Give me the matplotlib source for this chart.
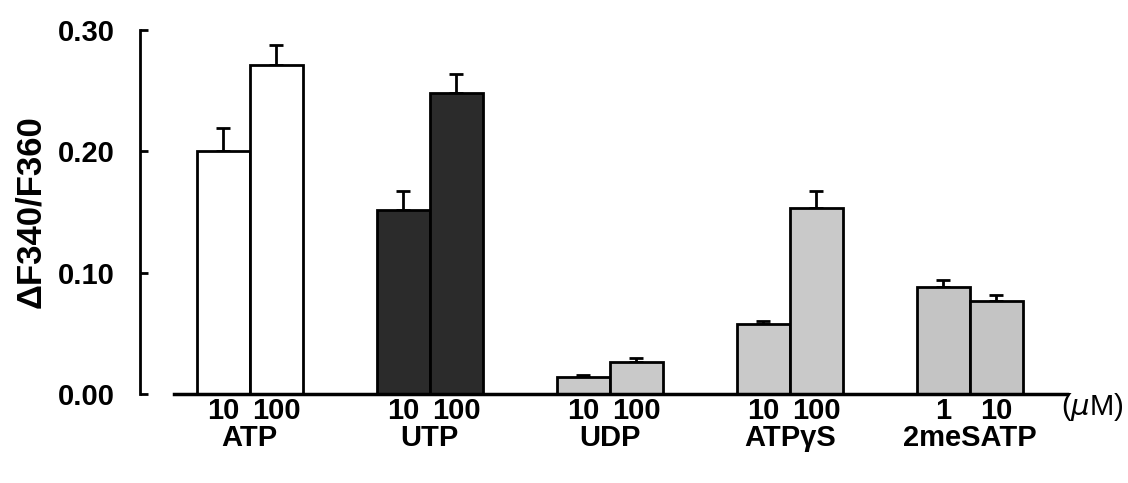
import numpy as np
import matplotlib
matplotlib.use("Agg")
import matplotlib.pyplot as plt

plt.rcParams['font.family'] = ['Liberation Sans', 'DejaVu Sans']

# data
groups = ['ATP', 'UTP', 'UDP', 'ATPγS', '2meSATP']
doses = [['10', '100'], ['10', '100'], ['10', '100'], ['10', '100'], ['1', '10']]
values = [[0.200, 0.271], [0.152, 0.248], [0.014, 0.026], [0.058, 0.153], [0.088, 0.077]]
errors = [[0.019, 0.017], [0.015, 0.016], [0.002, 0.004], [0.002, 0.014], [0.006, 0.005]]
colors = ['white', '#2b2b2b', '#c9c9c9', '#c9c9c9', '#c4c4c4']

fig = plt.figure(figsize=(11.28, 4.83), dpi=100)
ax = fig.add_axes([140 / 1128, 89 / 483, 988 / 1128, 364 / 483])

w = 0.295
for i, g in enumerate(groups):
    xs = np.array([i - w / 2, i + w / 2])
    ax.bar(xs, values[i], width=w, color=colors[i], edgecolor='black', linewidth=2, zorder=3)
    ax.errorbar(xs, values[i], yerr=[[0, 0], errors[i]], fmt='none', ecolor='black',
                elinewidth=2, capsize=5, capthick=2, zorder=2)
    for x, d in zip(xs, doses[i]):
        ax.text(x, -17 / 364, d, transform=ax.get_xaxis_transform(), ha='center', va='center',
                fontsize=21, fontweight='bold')
    ax.text(i, -44 / 364, g, transform=ax.get_xaxis_transform(), ha='center', va='center',
            fontsize=21, fontweight='bold')

ax.text(4.68, -13 / 364, '($\\mu$M)', transform=ax.get_xaxis_transform(), ha='center',
        va='center', fontsize=21)

# baseline
ax.plot([-0.42, 4.54], [0, 0], color='black', linewidth=2.5, clip_on=False, zorder=4)

ax.set_xlim(-0.61, 4.88)
ax.set_ylim(0, 0.30)
ax.set_yticks([0.0, 0.1, 0.2, 0.3])
ax.set_yticklabels(['0.00', '0.10', '0.20', '0.30'], fontsize=21, fontweight='bold')
ax.tick_params(axis='y', direction='in', length=6, width=2, pad=18)
ax.set_xticks([])
for s in ['top', 'right', 'bottom']:
    ax.spines[s].set_visible(False)
ax.spines['left'].set_linewidth(2)
ax.set_ylabel('ΔF340/F360', fontsize=25, fontweight='bold', labelpad=8)

fig.savefig('out.png', dpi=100)
